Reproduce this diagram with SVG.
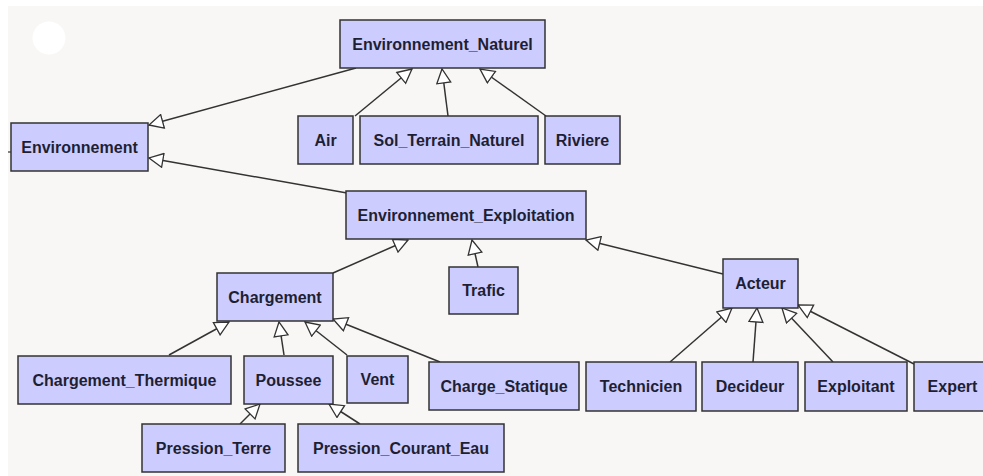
<svg xmlns="http://www.w3.org/2000/svg" width="983" height="476" viewBox="0 0 983 476">
<style>
.n rect{fill:#ccccff;stroke:#333;stroke-width:1.5}
.n text{font-family:"Liberation Sans",Arial,sans-serif;font-weight:bold;font-size:16px;fill:#1f1f33;text-anchor:middle}
#edges line{stroke:#333;stroke-width:1.5;marker-end:url(#tri)}
</style>
<defs>
<marker id="tri" markerUnits="userSpaceOnUse" markerWidth="16" markerHeight="16" refX="14" refY="7" orient="auto" viewBox="-1 -1 16 16">
<path d="M0,0 L14,7 L0,14 z" fill="#fff" stroke="#333" stroke-width="1.3"/>
</marker>
</defs>
<rect x="0" y="0" width="983" height="476" fill="#fff"/>
<rect x="8" y="6" width="975" height="470" fill="#f8f7f5"/>
<circle cx="49" cy="38" r="16.5" fill="#fff"/>
<g id="edges">
<line x1="356" y1="68" x2="149" y2="125"/>
<line x1="355" y1="116" x2="412" y2="69"/>
<line x1="448" y1="116" x2="442" y2="69"/>
<line x1="546" y1="116" x2="480" y2="69"/>
<line x1="347" y1="193" x2="149" y2="158"/>
<line x1="333" y1="273" x2="408" y2="240"/>
<line x1="478" y1="267" x2="472" y2="240"/>
<line x1="723" y1="274" x2="586" y2="240"/>
<line x1="670" y1="362" x2="732" y2="308"/>
<line x1="753" y1="362" x2="757" y2="308"/>
<line x1="833" y1="362" x2="782" y2="308"/>
<line x1="914" y1="364" x2="798" y2="305"/>
<line x1="169" y1="355" x2="229" y2="322"/>
<line x1="284" y1="355" x2="279" y2="322"/>
<line x1="347" y1="355" x2="305" y2="322"/>
<line x1="440" y1="362" x2="333" y2="319"/>
<line x1="240" y1="424" x2="260" y2="404"/>
<line x1="360" y1="424" x2="329" y2="404"/>
<path d="M8,152 H11" stroke="#333" stroke-width="1.2"/>
</g>
<g id="Environnement_Naturel" class="n"><rect x="340" y="20" width="205" height="48"/><text x="442.5" y="49.5">Environnement_Naturel</text></g>
<g id="Environnement" class="n"><rect x="11" y="123" width="137" height="48"/><text x="79.5" y="152.5">Environnement</text></g>
<g id="Air" class="n"><rect x="298" y="116" width="55" height="48"/><text x="325.5" y="145.5">Air</text></g>
<g id="Sol_Terrain_Naturel" class="n"><rect x="360" y="116" width="178" height="48"/><text x="449" y="145.5">Sol_Terrain_Naturel</text></g>
<g id="Riviere" class="n"><rect x="545" y="116" width="75" height="48"/><text x="582.5" y="145.5">Riviere</text></g>
<g id="Environnement_Exploitation" class="n"><rect x="346" y="191" width="240" height="48"/><text x="466" y="220.5">Environnement_Exploitation</text></g>
<g id="Trafic" class="n"><rect x="449" y="267" width="69" height="47"/><text x="483.5" y="296">Trafic</text></g>
<g id="Acteur" class="n"><rect x="723" y="259" width="75" height="49"/><text x="760.5" y="289">Acteur</text></g>
<g id="Chargement" class="n"><rect x="217" y="273" width="116" height="48"/><text x="275" y="302.5">Chargement</text></g>
<g id="Chargement_Thermique" class="n"><rect x="18" y="356" width="213" height="48"/><text x="124.5" y="385.5">Chargement_Thermique</text></g>
<g id="Poussee" class="n"><rect x="244" y="356" width="89" height="48"/><text x="288.5" y="385.5">Poussee</text></g>
<g id="Vent" class="n"><rect x="347" y="356" width="61" height="47"/><text x="377.5" y="385">Vent</text></g>
<g id="Charge_Statique" class="n"><rect x="429" y="362" width="150" height="48"/><text x="504" y="391.5">Charge_Statique</text></g>
<g id="Technicien" class="n"><rect x="586" y="362" width="110" height="49"/><text x="641" y="392">Technicien</text></g>
<g id="Decideur" class="n"><rect x="702" y="362" width="96" height="49"/><text x="750" y="392">Decideur</text></g>
<g id="Exploitant" class="n"><rect x="805" y="362" width="102" height="49"/><text x="856" y="392">Exploitant</text></g>
<g id="Expert" class="n"><rect x="914" y="362" width="77" height="49"/><text x="952.5" y="392">Expert</text></g>
<g id="Pression_Terre" class="n"><rect x="142" y="424" width="143" height="48"/><text x="213.5" y="453.5">Pression_Terre</text></g>
<g id="Pression_Courant_Eau" class="n"><rect x="298" y="424" width="206" height="48"/><text x="401" y="453.5">Pression_Courant_Eau</text></g>
</svg>
